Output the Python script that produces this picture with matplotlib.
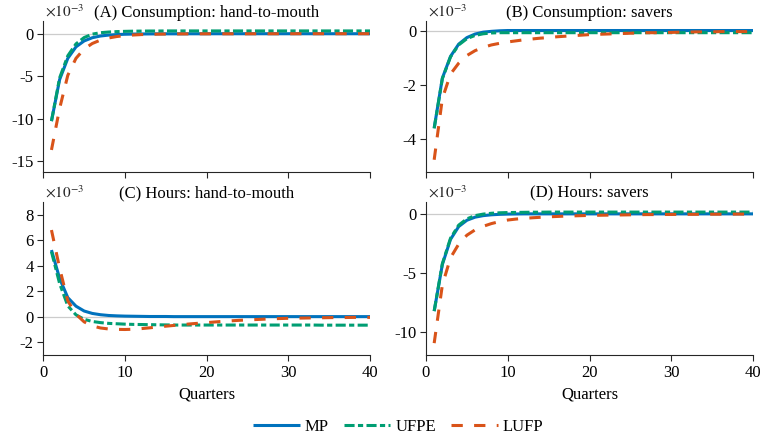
import numpy as np
import matplotlib
matplotlib.use('Agg')
import matplotlib.pyplot as plt

plt.rcParams['font.family'] = ['Liberation Serif', 'DejaVu Serif']
plt.rcParams['mathtext.fontset'] = 'stix'
plt.rcParams['axes.unicode_minus'] = False

# quarters after the shock
quarters = np.arange(1, 41)

# (A) consumption, hand-to-mouth (x 10^-3)
cons_htm_mp = [-10.3, -5.4, -2.9, -1.55, -0.85, -0.47, -0.27, -0.16, -0.10, -0.06,
               -0.04, -0.03, -0.02, -0.015, -0.01, -0.01, -0.01, -0.005, -0.005, -0.005,
               0.0, 0.0, 0.0, 0.0, 0.0, 0.0, 0.0, 0.0, 0.0, 0.0,
               0.0, 0.0, 0.0, 0.0, 0.0, 0.0, 0.0, 0.0, 0.0, 0.0]
cons_htm_ufpe = [-10.3, -5.2, -2.6, -1.2, -0.45, -0.05, 0.12, 0.2, 0.25, 0.28,
                 0.3, 0.31, 0.32, 0.32, 0.33, 0.33, 0.33, 0.33, 0.33, 0.33,
                 0.33, 0.33, 0.33, 0.33, 0.33, 0.33, 0.33, 0.33, 0.33, 0.33,
                 0.33, 0.33, 0.33, 0.33, 0.33, 0.33, 0.33, 0.33, 0.33, 0.33]
cons_htm_lufp = [-13.7, -8.8, -4.9, -2.9, -1.8, -1.15, -0.75, -0.5, -0.33, -0.22,
                 -0.15, -0.1, -0.07, -0.05, -0.04, -0.03, -0.02, -0.02, -0.01, -0.01,
                 -0.01, -0.01, -0.01, -0.01, -0.01, -0.005, -0.005, -0.005, -0.005, -0.005,
                 0.0, 0.0, 0.0, 0.0, 0.0, 0.0, 0.0, 0.0, 0.0, 0.0]

# (B) consumption, savers
cons_sav_mp = [-3.58, -1.75, -0.95, -0.5, -0.26, -0.13, -0.06, -0.03, -0.01, 0.0,
               0.0, 0.0, 0.0, 0.0, 0.0, 0.0, 0.0, 0.0, 0.0, 0.0,
               0.0, 0.0, 0.0, 0.0, 0.0, 0.0, 0.0, 0.0, 0.0, 0.0,
               0.0, 0.0, 0.0, 0.0, 0.0, 0.0, 0.0, 0.0, 0.0, 0.0]
cons_sav_ufpe = [-3.6, -1.77, -0.97, -0.53, -0.3, -0.18, -0.12, -0.09, -0.08, -0.08,
                 -0.08, -0.08, -0.08, -0.08, -0.08, -0.08, -0.08, -0.08, -0.08, -0.08,
                 -0.08, -0.08, -0.08, -0.08, -0.08, -0.08, -0.08, -0.08, -0.08, -0.08,
                 -0.08, -0.08, -0.08, -0.08, -0.08, -0.08, -0.08, -0.08, -0.08, -0.08]
cons_sav_lufp = [-4.75, -2.5, -1.6, -1.2, -0.92, -0.74, -0.62, -0.53, -0.47, -0.42,
                 -0.38, -0.34, -0.31, -0.28, -0.26, -0.23, -0.21, -0.19, -0.17, -0.15,
                 -0.14, -0.13, -0.12, -0.11, -0.1, -0.09, -0.08, -0.08, -0.07, -0.07,
                 -0.06, -0.06, -0.05, -0.05, -0.05, -0.04, -0.04, -0.04, -0.04, -0.04]

# (C) hours, hand-to-mouth
hours_htm_mp = [5.23, 3.0, 1.5, 0.83, 0.45, 0.26, 0.16, 0.1, 0.07, 0.05,
                0.04, 0.03, 0.02, 0.02, 0.02, 0.01, 0.01, 0.01, 0.01, 0.01,
                0.01, 0.01, 0.01, 0.01, 0.01, 0.01, 0.01, 0.01, 0.01, 0.01,
                0.01, 0.01, 0.01, 0.01, 0.01, 0.01, 0.01, 0.01, 0.01, 0.01]
hours_htm_ufpe = [5.1, 2.6, 0.85, 0.15, -0.2, -0.37, -0.46, -0.52, -0.55, -0.58,
                  -0.6, -0.61, -0.62, -0.63, -0.64, -0.65, -0.65, -0.65, -0.65, -0.65,
                  -0.65, -0.65, -0.65, -0.65, -0.65, -0.65, -0.65, -0.65, -0.65, -0.65,
                  -0.65, -0.65, -0.65, -0.66, -0.66, -0.66, -0.66, -0.66, -0.66, -0.66]
hours_htm_lufp = [6.8, 3.8, 1.25, 0.2, -0.4, -0.72, -0.88, -0.96, -0.99, -1.0,
                  -0.98, -0.93, -0.87, -0.8, -0.74, -0.68, -0.62, -0.56, -0.51, -0.46,
                  -0.41, -0.36, -0.32, -0.28, -0.25, -0.22, -0.19, -0.16, -0.14, -0.12,
                  -0.11, -0.1, -0.09, -0.08, -0.07, -0.06, -0.06, -0.05, -0.05, -0.05]

# (D) hours, savers
hours_sav_mp = [-8.2, -4.27, -2.15, -1.07, -0.54, -0.28, -0.15, -0.08, -0.04, -0.02,
                -0.01, 0.0, 0.0, 0.0, 0.0, 0.0, 0.0, 0.0, 0.0, 0.0,
                0.0, 0.0, 0.0, 0.0, 0.0, 0.0, 0.0, 0.0, 0.0, 0.0,
                0.0, 0.0, 0.0, 0.0, 0.0, 0.0, 0.0, 0.0, 0.0, 0.0]
hours_sav_ufpe = [-8.2, -4.2, -2.05, -0.95, -0.42, -0.15, -0.02, 0.05, 0.09, 0.11,
                  0.12, 0.13, 0.14, 0.14, 0.15, 0.15, 0.15, 0.15, 0.15, 0.15,
                  0.15, 0.15, 0.15, 0.15, 0.15, 0.15, 0.15, 0.15, 0.15, 0.15,
                  0.15, 0.15, 0.15, 0.15, 0.15, 0.15, 0.15, 0.15, 0.15, 0.15]
hours_sav_lufp = [-10.9, -6.0, -3.7, -2.55, -1.8, -1.35, -1.05, -0.82, -0.65, -0.52,
                  -0.44, -0.38, -0.33, -0.29, -0.25, -0.22, -0.19, -0.17, -0.15, -0.13,
                  -0.12, -0.11, -0.1, -0.09, -0.08, -0.07, -0.06, -0.06, -0.05, -0.05,
                  -0.04, -0.04, -0.04, -0.03, -0.03, -0.03, -0.03, -0.02, -0.02, -0.02]

titles = ['(A) Consumption: hand-to-mouth', '(B) Consumption: savers',
          '(C) Hours: hand-to-mouth', '(D) Hours: savers']
series = [(cons_htm_mp, cons_htm_ufpe, cons_htm_lufp),
          (cons_sav_mp, cons_sav_ufpe, cons_sav_lufp),
          (hours_htm_mp, hours_htm_ufpe, hours_htm_lufp),
          (hours_sav_mp, hours_sav_ufpe, hours_sav_lufp)]
ylims = [(-16.3, 1.5), (-5.2, 0.35), (-3, 9), (-11.9, 1.0)]
yticks = [[-15, -10, -5, 0], [-4, -2, 0], [-2, 0, 2, 4, 6, 8], [-10, -5, 0]]
labels = ['MP', 'UFPE', 'LUFP']

c_mp, c_ufpe, c_lufp = '#0072BD', '#009E73', '#D95319'
axcol = '#262626'

fig = plt.figure(figsize=(7.61, 4.42), dpi=100)
W, H = 761, 442
# axes boxes in pixels: left, top, right, bottom
boxes = [(43.3, 21, 370, 172), (426, 21, 753, 172),
         (43.3, 202, 370, 355), (426, 202, 753, 355)]

lines = []
for i in range(4):
    l, t, r, b = boxes[i]
    ax = fig.add_axes([l / W, 1 - b / H, (r - l) / W, (b - t) / H])
    mp, ufpe, lufp = series[i]
    ax.axhline(0, color='#cccccc', lw=0.9, zorder=0)
    h1, = ax.plot(quarters, mp, color=c_mp, lw=2.2, solid_capstyle='butt')
    h2, = ax.plot(quarters, ufpe, color=c_ufpe, lw=2.2, dashes=(3.3, 1.1, 1.7, 1.1))
    h3, = ax.plot(quarters, lufp, color=c_lufp, lw=2.2, dashes=(3.7, 3.7))
    lines = [h1, h2, h3]

    ax.set_xlim(0, 40)
    ax.set_ylim(*ylims[i])
    ax.set_xticks([0, 10, 20, 30, 40])
    ax.set_yticks(yticks[i])
    for s in ['top', 'right']:
        ax.spines[s].set_visible(False)
    for s in ['left', 'bottom']:
        ax.spines[s].set_color(axcol)
        ax.spines[s].set_linewidth(0.8)
    ax.tick_params(direction='out', length=4, width=0.8, color=axcol,
                   labelsize=12, labelcolor='black', pad=3)
    if i < 2:
        ax.tick_params(axis='x', labelbottom=False)
    else:
        ax.set_xlabel('Quarters', fontsize=12, labelpad=4)
    ax.set_title(titles[i], fontsize=12, pad=3)
    ax.annotate(r'$\times10^{-3}$', xy=(0, 1), xycoords='axes fraction',
                xytext=(1.5, 3.5), textcoords='offset points',
                ha='left', va='baseline', fontsize=11, color=axcol)

fig.legend(lines, labels, loc='center', bbox_to_anchor=(0.523, 0.034), ncol=3,
           frameon=False, fontsize=12, handlelength=2.8, handletextpad=0.3,
           columnspacing=0.9)

fig.savefig('out.png', dpi=100)
